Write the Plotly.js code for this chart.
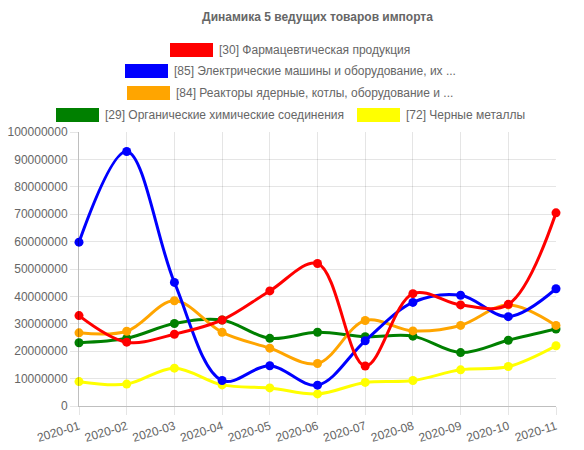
<!DOCTYPE html>
<html><head><meta charset="utf-8">
<script src="https://cdn.plot.ly/plotly-3.0.1.min.js"></script>
<style>html,body{margin:0;padding:0;background:#fff}#c{width:584px;height:450px}</style>
</head><body><div id="c"></div>
<script>
const months = ["2020-01","2020-02","2020-03","2020-04","2020-05","2020-06","2020-07","2020-08","2020-09","2020-10","2020-11"];
const names = [
  "[30] Фармацевтическая продукция",
  "[85] Электрические машины и оборудование, их ...",
  "[84] Реакторы ядерные, котлы, оборудование и ...",
  "[29] Органические химические соединения",
  "[72] Черные металлы"
];
const colors = ["#ff0000","#0000ff","#ffa500","#008000","#ffff00"];
const pharma = [33.0e6,23.3e6,26.2e6,31.4e6,42.0e6,52.0e6,14.6e6,41.0e6,36.9e6,37.1e6,70.5e6];
const electric = [59.8e6,92.9e6,45.1e6,9.3e6,14.7e6,7.6e6,23.8e6,37.8e6,40.4e6,32.6e6,42.8e6];
const reactors = [26.7e6,27.3e6,38.4e6,26.9e6,21.1e6,15.5e6,31.2e6,27.4e6,29.4e6,36.9e6,29.4e6];
const organic = [23.1e6,24.7e6,30.1e6,31.4e6,24.7e6,26.9e6,25.3e6,25.5e6,19.5e6,24.0e6,28.1e6];
const metals = [8.9e6,8.0e6,13.8e6,7.7e6,6.6e6,4.4e6,8.6e6,9.3e6,13.2e6,14.4e6,22.0e6];
const series = [pharma, electric, reactors, organic, metals];

const W=584,H=450,L=79,R=28,T=132,B=44;
const pw=W-L-R, ph=H-T-B;
const px=x=>(x-L)/pw, py=y=>(H-B-y)/ph;

const traces=[];
for(let i=series.length-1;i>=0;i--){
  traces.push({x:months,y:series[i],name:names[i],type:'scatter',mode:'lines+markers',
    line:{color:colors[i],width:3,shape:'spline',smoothing:1},
    marker:{color:colors[i],size:9},cliponaxis:false,showlegend:false});
}
// legend layout (pixel positions of boxes)
const legendPos=[[170,43],[125,64],[127,86],[56,108],[357,108]];
const shapes=[],annotations=[];
legendPos.forEach((p,i)=>{
  shapes.push({type:'rect',xref:'paper',yref:'paper',x0:px(p[0]),x1:px(p[0]+43),y0:py(p[1]+14),y1:py(p[1]),
    fillcolor:colors[i],line:{width:0}});
  annotations.push({xref:'paper',yref:'paper',x:px(p[0]+47),y:py(p[1]+7),xanchor:'left',yanchor:'middle',
    text:names[i],showarrow:false,font:{family:'Arial, Liberation Sans',size:12,color:'#666'}});
});

const layout={
  width:W,height:H,margin:{l:L,r:R,t:T,b:B},
  paper_bgcolor:'#fff',plot_bgcolor:'#fff',
  font:{family:'Arial, Liberation Sans',size:12,color:'#666'},
  title:{text:'<b>Динамика 5 ведущих товаров импорта</b>',x:0.5,xref:'paper',y:1-17/H,yanchor:'middle',
    font:{size:12,color:'#666',family:'Arial, Liberation Sans'}},
  xaxis:{type:'category',range:[0,10],showgrid:true,gridcolor:'rgba(0,0,0,0.1)',
    ticks:'outside',ticklen:8,tickcolor:'rgba(0,0,0,0.1)',tickangle:-17,
    showline:true,linecolor:'rgba(0,0,0,0.25)',zeroline:false,tickfont:{size:12,color:'#666'}},
  yaxis:{range:[0,100e6],dtick:10e6,tickformat:'d',showgrid:true,gridcolor:'rgba(0,0,0,0.1)',
    ticks:'outside',ticklen:8,tickcolor:'rgba(0,0,0,0.1)',showline:true,linecolor:'rgba(0,0,0,0.25)',
    zeroline:false,tickfont:{size:12,color:'#666'}},
  shapes:shapes,annotations:annotations,showlegend:false
};
Plotly.newPlot('c',traces,layout,{displayModeBar:false,staticPlot:true});
</script></body></html>
